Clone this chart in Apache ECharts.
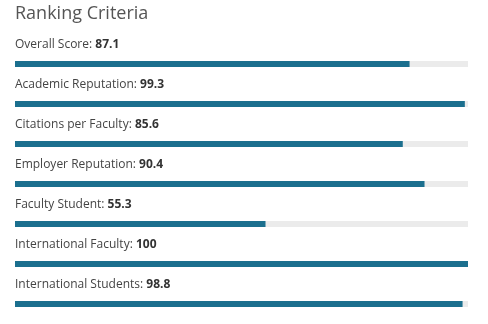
<!DOCTYPE html>
<html>
<head>
<meta charset="utf-8">
<script src="https://cdn.jsdelivr.net/npm/echarts@6/dist/echarts.min.js"></script>
<style>html,body{margin:0;padding:0;background:#fff}#c{width:488px;height:324px}</style>
</head>
<body>
<div id="c"></div>
<script>
const categories = ['Overall Score','Academic Reputation','Citations per Faculty','Employer Reputation','Faculty Student','International Faculty','International Students'];
const values = [87.1, 99.3, 85.6, 90.4, 55.3, 100, 98.8];
const valueLabels = ['87.1','99.3','85.6','90.4','55.3','100','98.8'];

const chart = echarts.init(document.getElementById('c'), null, {renderer:'canvas'});
chart.setOption({
  backgroundColor:'#ffffff',
  animation:false,
  title:{text:'Ranking Criteria', left:15, top:5, padding:0, textStyle:{fontFamily:'Open Sans', fontSize:18, fontWeight:'normal', color:'#555'}},
  grid:{left:15, right:20, top:44, bottom:0, containLabel:false},
  xAxis:{type:'value', min:0, max:100, show:false},
  yAxis:{type:'category', data:categories, inverse:true, show:false},
  series:[{
    type:'bar',
    data:values,
    barWidth:6,
    itemStyle:{color:'#1b6f8e'},
    showBackground:true,
    backgroundStyle:{color:'#ebebeb'},
    label:{
      show:true,
      position:[0,-16],
      align:'left',
      verticalAlign:'middle',
      formatter:(p)=>'{a|'+categories[p.dataIndex]+': }{b|'+valueLabels[p.dataIndex]+'}',
      rich:{
        a:{fontFamily:'Open Sans', fontSize:12, color:'#444'},
        b:{fontFamily:'Open Sans', fontSize:12, fontWeight:'bold', color:'#333'}
      }
    }
  }]
});
</script>
</body>
</html>
